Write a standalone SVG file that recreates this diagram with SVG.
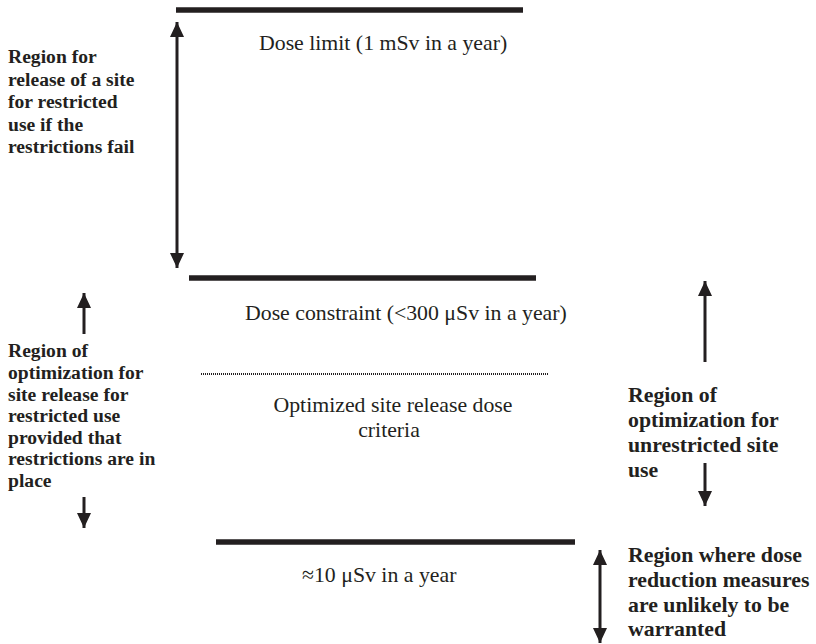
<svg xmlns="http://www.w3.org/2000/svg" width="816" height="644" viewBox="0 0 816 644">
<style>
.lvl{stroke:#231f20;stroke-width:5.5;fill:none}
.dot{stroke:#231f20;stroke-width:2;stroke-dasharray:1 1;fill:none}
.sh{stroke:#231f20;stroke-width:3;fill:none}
.reg{font-family:"Liberation Serif","Times New Roman",serif;font-size:21.8px;fill:#231f20}
.bl{font-family:"Liberation Serif","Times New Roman",serif;font-weight:bold;font-size:19.6px;fill:#231f20}
.br{font-family:"Liberation Serif","Times New Roman",serif;font-weight:bold;font-size:21.8px;fill:#231f20}
</style>
<defs>
<marker id="ah" markerUnits="userSpaceOnUse" markerWidth="16" markerHeight="14" refX="15" refY="7" orient="auto">
<path d="M0,0 L15,7 L0,14 z" fill="#231f20"/>
</marker>
</defs>
<rect width="816" height="644" fill="#fff"/>
<g id="levels">
<g id="dose-limit"><line class="lvl" x1="176" y1="10" x2="523" y2="10"/><text class="reg" x="259" y="50">Dose limit (1 mSv in a year)</text></g>
<g id="dose-constraint"><line class="lvl" x1="189" y1="278" x2="536" y2="278"/><text class="reg" x="245" y="320">Dose constraint (&lt;300 μSv in a year)</text></g>
<g id="optimized"><line class="dot" x1="201" y1="374" x2="548" y2="374"/><text class="reg" text-anchor="middle" x="393" y="412">Optimized site release dose</text><text class="reg" text-anchor="middle" x="389" y="437">criteria</text></g>
<g id="ten-usv"><line class="lvl" x1="216" y1="542" x2="575" y2="542"/><text class="reg" x="302" y="582">≈10 μSv in a year</text></g>
</g>
<g id="labels">
<g id="region-restricted-fail"><text class="bl" x="8" y="63">Region for</text><text class="bl" x="8" y="85.5">release of a site</text><text class="bl" x="8" y="108">for restricted</text><text class="bl" x="8" y="130.5">use if the</text><text class="bl" x="8" y="153">restrictions fail</text></g>
<g id="region-restricted-opt"><text class="bl" x="8" y="357">Region of</text><text class="bl" x="8" y="379">optimization for</text><text class="bl" x="8" y="400.5">site release for</text><text class="bl" x="8" y="422">restricted use</text><text class="bl" x="8" y="443.5">provided that</text><text class="bl" x="8" y="465">restrictions are in</text><text class="bl" x="8" y="487">place</text></g>
<g id="region-unrestricted-opt"><text class="br" x="628" y="402">Region of</text><text class="br" x="628" y="427">optimization for</text><text class="br" x="628" y="452">unrestricted site</text><text class="br" x="628" y="477">use</text></g>
<g id="region-no-reduction"><text class="br" x="628" y="562">Region where dose</text><text class="br" x="628" y="587">reduction measures</text><text class="br" x="628" y="612">are unlikely to be</text><text class="br" x="628" y="636">warranted</text></g>
</g>
<g id="connectors">
<line class="sh" x1="177" y1="145" x2="177" y2="22" marker-end="url(#ah)"/>
<line class="sh" x1="177" y1="145" x2="177" y2="268" marker-end="url(#ah)"/>
<line class="sh" x1="84" y1="334" x2="84" y2="293" marker-end="url(#ah)"/>
<line class="sh" x1="84" y1="497" x2="84" y2="528" marker-end="url(#ah)"/>
<line class="sh" x1="705" y1="362" x2="705" y2="281" marker-end="url(#ah)"/>
<line class="sh" x1="705" y1="463" x2="705" y2="506" marker-end="url(#ah)"/>
<line class="sh" x1="600" y1="596" x2="600" y2="550" marker-end="url(#ah)"/>
<line class="sh" x1="600" y1="596" x2="600" y2="643" marker-end="url(#ah)"/>
</g>
</svg>
